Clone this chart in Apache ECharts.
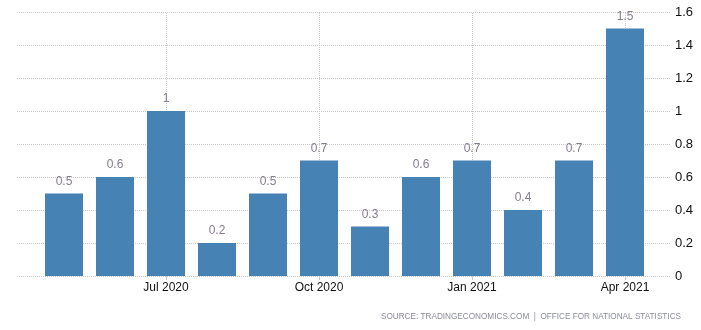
<!DOCTYPE html>
<html><head><meta charset="utf-8">
<script src="https://cdn.jsdelivr.net/npm/echarts@6/dist/echarts.min.js"></script>
<style>html,body{margin:0;padding:0;background:#fff}#c{width:701px;height:330px}</style>
</head><body><div id="c"></div>
<script>
const categories = ['May 2020','Jun 2020','Jul 2020','Aug 2020','Sep 2020','Oct 2020','Nov 2020','Dec 2020','Jan 2021','Feb 2021','Mar 2021','Apr 2021'];
const values = [0.5, 0.6, 1, 0.2, 0.5, 0.7, 0.3, 0.6, 0.7, 0.4, 0.7, 1.5];
const tickLabels = ['Jul 2020','Oct 2020','Jan 2021','Apr 2021'];
const yTicks = [0, 0.2, 0.4, 0.6, 0.8, 1, 1.2, 1.4, 1.6];
const sourceText = 'SOURCE: TRADINGECONOMICS.COM  |  OFFICE FOR NATIONAL STATISTICS';

const FONT = 'Liberation Sans';
const chart = echarts.init(document.getElementById('c'), null, {renderer:'canvas'});
const showIdx = (i) => tickLabels.indexOf(categories[i]) >= 0;
chart.setOption({
  animation: false,
  backgroundColor: '#fff',
  textStyle: {fontFamily: FONT},
  graphic: [{
    type: 'text', right: 20, top: 313,
    style: {text: sourceText, fill: '#8a8a9a', font: '8.2px ' + FONT}
  }],
  grid: [
    {left: 17, right: 31, top: 12, bottom: 54},
    {left: 38.5, right: 50.5, top: 12, bottom: 54}
  ],
  xAxis: [
    {gridIndex: 0, type: 'value', min: 0, max: 1, show: false},
    {gridIndex: 1, type: 'category', data: categories, boundaryGap: true,
     axisLine: {show: false},
     axisTick: {show: true, alignWithLabel: true, length: 4, interval: (i) => showIdx(i), lineStyle: {color: '#ccc'}},
     axisLabel: {interval: (i) => showIdx(i), color: '#111', fontSize: 12, margin: 6, fontFamily: FONT},
     splitLine: {show: false}}
  ],
  yAxis: [
    {gridIndex: 0, type: 'value', position: 'right', min: 0, max: 1.6, interval: 0.2,
     axisLine: {show: false}, axisTick: {show: false},
     axisLabel: {color: '#111', fontSize: 13, margin: 5, fontFamily: FONT,
       formatter: (v) => { const t = yTicks.find(x => Math.abs(x - v) < 1e-6); return t === undefined ? '' : String(t); }},
     splitLine: {show: true, lineStyle: {color: '#c8c8c8', type: [1, 1], width: 1}}},
    {gridIndex: 1, type: 'value', min: 0, max: 1.6, interval: 0.2, show: false}
  ],
  series: [
    {type: 'line', xAxisIndex: 1, yAxisIndex: 1, data: [], z: 0, silent: true,
     markLine: {silent: true, z: 0, symbol: ['none','none'], label: {show: false},
       lineStyle: {color: '#c8c8c8', type: [1, 1], width: 1},
       data: tickLabels.map(t => ({xAxis: t}))}},
    {type: 'bar', xAxisIndex: 1, yAxisIndex: 1, data: values, barWidth: 38, z: 3,
     itemStyle: {color: '#4682b4'},
     label: {show: true, position: 'top', distance: 6, color: '#857c8e', fontSize: 12, fontFamily: FONT}}
  ]
});
</script></body></html>
